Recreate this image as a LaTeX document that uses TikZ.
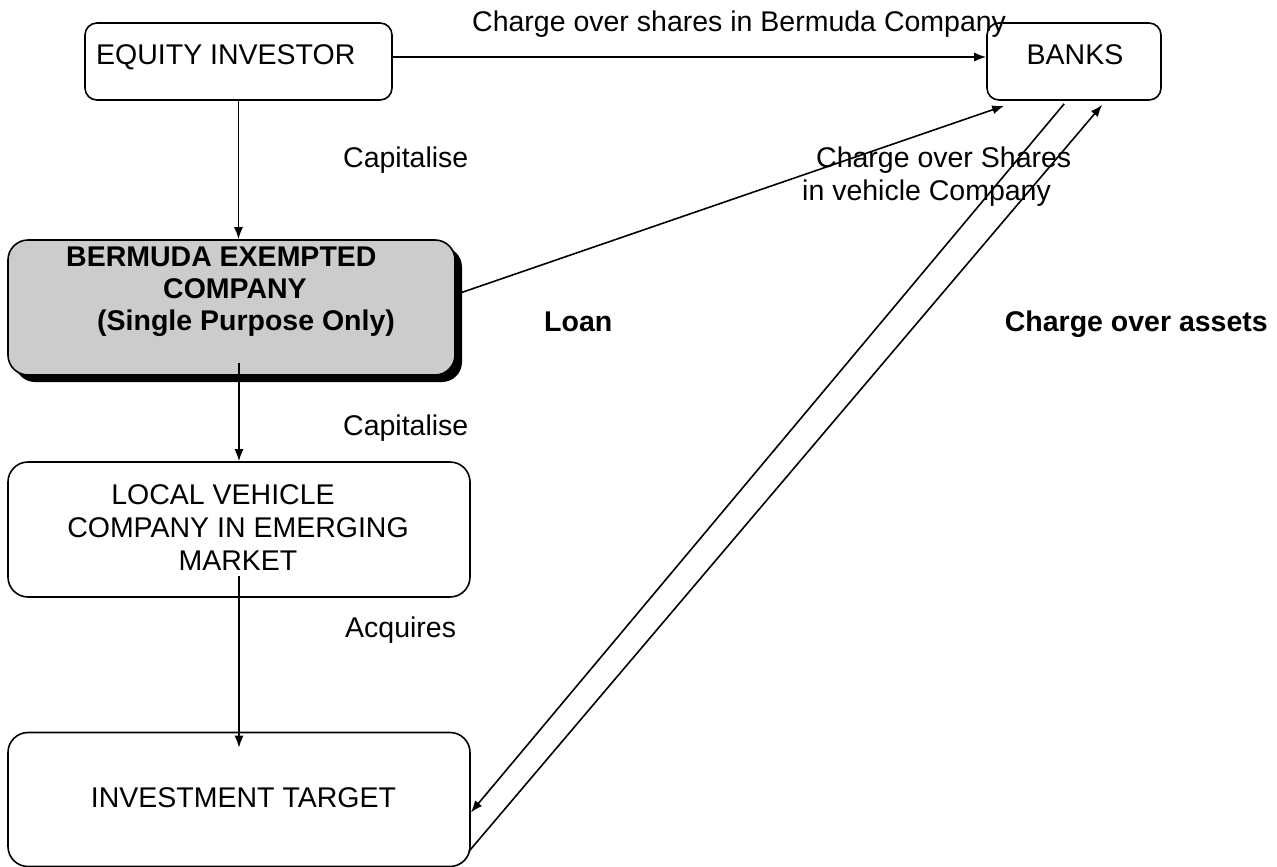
\documentclass[tikz,border=0pt]{standalone}
\usepackage{fontspec}
\setmainfont{Liberation Sans}
\usetikzlibrary{arrows.meta}
\usetikzlibrary{shadows}
\usetikzlibrary{positioning}

\begin{document}
\begin{tikzpicture}[
  x=1pt, y=-1pt,
  > = {Latex[length=12pt,width=9pt]},
  every node/.style = {font=\fontsize{28.5}{32}\selectfont, inner sep=0pt},
  bold/.style = {font=\fontsize{28.5}{32}\selectfont\bfseries},
  box/.style = {draw, line width=1.6pt, rounded corners=20pt},
  conn/.style = {line width=1.6pt, ->},
  lbl/.style = {anchor=base west}
  ]
  \useasboundingbox (0,0) rectangle (1277,867);

  \node[box, rounded corners=12pt, minimum width=307pt, minimum height=77pt] (eqi) at (238.5,61.5) {};
  \node[box, rounded corners=12pt, minimum width=174pt, minimum height=77pt] (bnk) at (1074,61.5) {};
  \node[box, fill=black!20, drop shadow={shadow xshift=7pt, shadow yshift=-7pt, fill=black, opacity=1},
        minimum width=447pt, minimum height=135pt] (bmco) at (231.5,307.5) {};
  \node[box, minimum width=462pt, minimum height=135pt] (lvc) at (239,529.5) {};
  \node[box, minimum width=462pt, minimum height=134pt] (tgt) at (239,799.5) {};

  \node[lbl] (eqitxt) at (96,65) {EQUITY INVESTOR};
  \node[anchor=base] (bnktxt) at (1075,65) {BANKS};
  \node[bold, align=left, anchor=west] (bmcotxt) at (66,292)
    {BERMUDA EXEMPTED\\\hspace*{97pt}COMPANY\\\hspace*{31pt}(Single Purpose Only)};
  \node[align=center, font=\fontsize{28.5}{33}\selectfont] (lvctxt) at (238,528)
    {LOCAL VEHICLE\hspace*{30pt}\\COMPANY IN EMERGING\\MARKET};
  \node[anchor=base] (tgttxt) at (243.5,807) {INVESTMENT TARGET};

  \draw[conn] ([yshift=4.5pt]eqi.east) -- ([yshift=4.5pt]bnk.west);
  \draw[conn] (eqi.south) -- (eqi.south |- bmco.north);
  \draw[conn] (lvc.north |- bmco.south) ++(0,-13) -- (lvc.north);
  \draw[conn] (lvc.south) ++(0,-22) -- ([yshift=-16pt]tgt.north);
  \draw[conn] ([yshift=13pt]bmco.east) -- ([xshift=18pt,yshift=-5pt]bnk.south west);
  \draw[conn] ([xshift=78pt,yshift=-3pt]bnk.south west) -- ([yshift=-13pt]tgt.east);
  \draw[conn] ([xshift=-2pt,yshift=-52pt]tgt.east) -- ([xshift=116pt,yshift=-4pt]bnk.south west);

  \node[lbl] (cbc) at (472,32) {Charge over shares in Bermuda Company};
  \node[lbl] (cap1) at (343,167) {Capitalise};
  \node[lbl] (cap2) at (343,435) {Capitalise};
  \node[lbl] (acq) at (345,637) {Acquires};
  \node[lbl] (csv1) at (816,167) {Charge over Shares};
  \node[lbl] (csv2) at (802,200) {in vehicle Company};
  \node[lbl, bold] (loan) at (544,331) {Loan};
  \node[anchor=base east, bold] (coa) at (1268,331) {Charge over assets};
\end{tikzpicture}
\end{document}
